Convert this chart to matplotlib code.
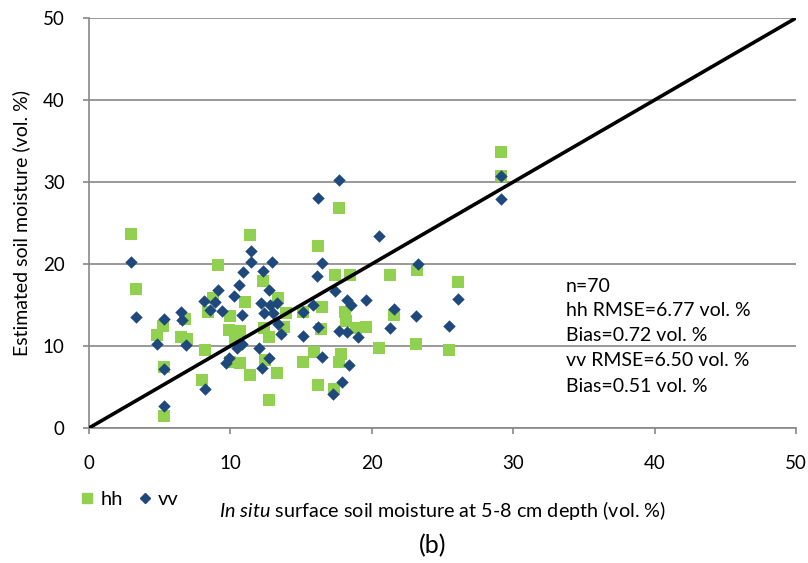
import matplotlib
matplotlib.use("Agg")
import matplotlib.pyplot as plt
from matplotlib.lines import Line2D

# In situ (x) vs estimated (y) soil moisture, vol. %
hh_x = [3.0, 3.3, 4.8, 5.25, 5.3, 5.3, 6.8, 6.5, 6.9, 8.0, 8.2, 8.45, 8.8, 9.1,
        9.95, 9.9, 9.95, 10.7, 11.0, 10.7, 11.4, 11.4, 12.3, 12.4, 12.75, 12.45,
        12.75, 13.3, 13.4, 13.8, 13.9, 15.1, 15.1, 15.9, 16.2, 16.2, 16.5, 16.4,
        17.3, 17.4, 17.7, 17.8, 17.7, 18.1, 18.2, 18.45, 18.85, 19.6, 20.5, 21.3,
        21.6, 23.1, 23.2, 25.45, 26.1, 29.15, 29.15, 10.3]
hh_y = [23.7, 16.9, 11.3, 12.4, 7.5, 1.5, 13.3, 11.1, 10.8, 5.9, 9.5, 14.2, 15.8, 19.9,
        13.6, 12.0, 8.1, 7.9, 15.4, 11.8, 23.5, 6.5, 17.9, 12.2, 11.1, 8.3,
        3.4, 6.7, 15.9, 12.3, 14.0, 14.1, 8.0, 9.3, 22.2, 5.3, 14.8, 12.1,
        4.7, 18.7, 26.8, 9.0, 8.0, 14.2, 13.0, 18.7, 12.15, 12.3, 9.8, 18.7,
        13.8, 10.3, 19.3, 9.5, 17.8, 33.6, 30.7, 10.8]

vv_x = [3.0, 3.3, 4.8, 5.27, 5.3, 5.3, 6.5, 6.55, 6.83, 8.1, 8.2, 8.55, 8.9, 9.12,
        9.38, 9.9, 9.7, 10.26, 10.6, 10.87, 11.43, 11.43, 10.84, 10.84, 10.44,
        12.3, 12.96, 12.7, 12.14, 12.8, 13.3, 12.37, 13.03, 13.4, 13.55, 12.05,
        12.75, 12.2, 15.1, 15.86, 15.1, 16.22, 16.5, 16.5, 16.15, 16.2, 17.65,
        17.4, 18.22, 18.5, 17.7, 18.22, 19.05, 18.4, 17.86, 17.28, 19.6, 20.5,
        21.6, 21.27, 23.1, 23.24, 25.45, 26.07, 29.15, 29.15]
vv_y = [20.2, 13.5, 10.2, 13.3, 7.2, 2.7, 14.2, 13.2, 10.1, 15.5, 4.7, 14.4, 15.4, 16.8,
        14.3, 8.5, 7.9, 16.1, 17.4, 19.0, 21.6, 20.2, 13.8, 10.3, 9.7,
        19.1, 20.2, 16.8, 15.2, 15.0, 15.2, 14.0, 14.0, 12.7, 11.5, 9.7,
        8.5, 7.3, 14.2, 15.0, 11.2, 12.3, 8.6, 20.1, 18.5, 28.1, 30.2,
        16.7, 15.6, 15.0, 11.8, 11.7, 11.05, 7.7, 5.65, 4.1, 15.6, 23.4,
        14.5, 12.25, 13.7, 20.0, 12.5, 15.7, 30.7, 27.9]

one_to_one = [0, 50]
ticks = [0, 10, 20, 30, 40, 50]
stats_lines = ["n=70", "hh RMSE=6.77 vol. %", "Bias=0.72 vol. %",
               "vv RMSE=6.50 vol. %", "Bias=0.51 vol. %"]

GREEN = "#92D050"
BLUE = "#1F497D"
GRID = "#878787"
FONT = "Lato"

plt.rcParams["font.family"] = [FONT, "DejaVu Sans"]
plt.rcParams["mathtext.fontset"] = "custom"
plt.rcParams["mathtext.it"] = FONT + ":italic"
plt.rcParams["mathtext.rm"] = FONT

fig = plt.figure(figsize=(8.08, 5.63), dpi=100)
ax = fig.add_axes([89 / 808, 135 / 563, 707 / 808, 410 / 563])

ax.scatter(hh_x, hh_y, marker="s", s=85, color=GREEN, linewidths=0, zorder=3)
ax.scatter(vv_x, vv_y, marker="D", s=40, color=BLUE, linewidths=0, zorder=4)
ax.plot(one_to_one, one_to_one, color="black", lw=2.6, zorder=5,
        solid_capstyle="butt")

ax.set_xlim(0, 50)
ax.set_ylim(0, 50)
ax.set_xticks(ticks)
ax.set_yticks(ticks)
ax.grid(axis="y", color=GRID, lw=1.2, zorder=1)
ax.set_axisbelow(True)
for side in ("top", "right"):
    ax.spines[side].set_visible(False)
for side in ("left", "bottom"):
    ax.spines[side].set_color(GRID)
    ax.spines[side].set_linewidth(1.2)
ax.tick_params(axis="both", direction="out", length=4.5, width=1.2,
               color=GRID, labelsize=13.5, labelcolor="black")
ax.tick_params(axis="x", pad=15)
ax.tick_params(axis="y", pad=13)

ax.set_ylabel("Estimated soil moisture (vol. %)", fontsize=14, labelpad=9)

fig.text(442 / 808, 1 - 510 / 563,
         r"$\it{In\ situ}$ surface soil moisture at 5-8 cm depth (vol. %)",
         fontsize=14.2, ha="center", va="center")
fig.text(433 / 808, 1 - 546 / 563, "(b)", fontsize=18, ha="center", va="center")

line_y = [17.3, 14.3, 11.3, 8.2, 5.0]
for txt, yy in zip(stats_lines, line_y):
    ax.text(33.7, yy, txt, fontsize=14, ha="left", va="center", zorder=6)

handles = [Line2D([], [], marker="s", ls="none", color=GREEN, markersize=7.5),
           Line2D([], [], marker="D", ls="none", color=BLUE, markersize=5.5)]
fig.legend(handles, ["hh", "vv"], loc="center left",
           bbox_to_anchor=(79 / 808, 1 - 499 / 563), ncol=2, frameon=False,
           fontsize=14.5, handlelength=0.8, handletextpad=0.25,
           columnspacing=0.7, borderpad=0, borderaxespad=0)

fig.savefig("out.png", dpi=100)
